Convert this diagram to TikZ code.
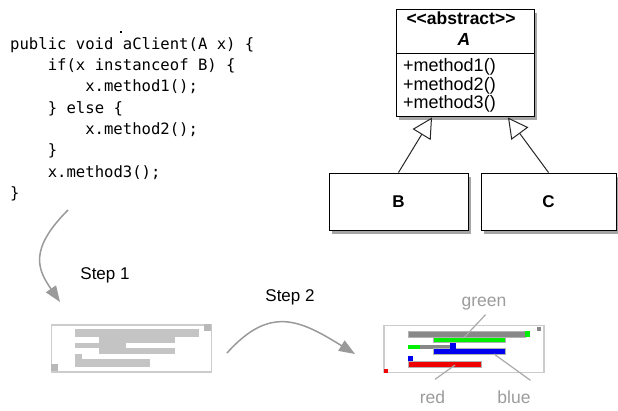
\documentclass[tikz,border=0pt]{standalone}
\usepackage{fontspec}
\setmainfont{Liberation Sans}
\newfontfamily\codefont{DejaVu Sans Mono}
\usetikzlibrary{arrows.meta,shadows}
\definecolor{arrgray}{HTML}{9A9A9A}
\definecolor{lblgray}{HTML}{9C9C9C}
\definecolor{pointgray}{HTML}{AAAAAA}
\definecolor{framegray}{HTML}{CCCCCC}
\definecolor{bargray}{HTML}{C4C4C4}
\definecolor{cornergray}{HTML}{B8B8B8}
\definecolor{darkbar}{HTML}{888888}
\definecolor{gbar}{HTML}{00F000}
\definecolor{bbar}{HTML}{0000F0}
\definecolor{rbar}{HTML}{F00000}
\begin{document}
\begin{tikzpicture}[x=1pt,y=-1pt,
  code/.style={anchor=base west, inner sep=0pt, font=\codefont\fontsize{15.6}{18}\selectfont},
  umlbox/.style={draw=black, line width=1pt, fill=white,
    drop shadow={shadow xshift=2.5pt, shadow yshift=-3.5pt, fill=black!50, opacity=0.7}},
  umltext/.style={anchor=base west, inner sep=0pt, font=\fontsize{18}{20}\selectfont},
  umlhead/.style={anchor=base, inner sep=0pt, font=\bfseries\fontsize{17.5}{20}\selectfont},
  inh/.style={draw=black!85, line width=1pt, -{Triangle[open, length=20pt, width=21pt, line width=1pt]}},
  steparrow/.style={draw=arrgray, line width=1.5pt, -{Triangle[length=16pt, width=12pt]}},
  steptext/.style={inner sep=0pt, font=\fontsize{17}{20}\selectfont},
  smallframe/.style={draw=framegray, line width=1.5pt, minimum width=160pt, minimum height=47pt, inner sep=0pt},
  lbl/.style={inner sep=0pt, text=lblgray, font=\fontsize{17.5}{20}\selectfont},
  pointer/.style={draw=pointgray, line width=1.2pt},
  outl/.style={draw=black!30, line width=0.4pt}
]
\useasboundingbox (0,0) rectangle (618,410);
\fill[white] (0,0) rectangle (618,410);

% ---------------- code ----------------
\fill (120,31) rectangle (122,33);
\node[code] (c1) at (10,49.3)   {public void aClient(A x) \{};
\node[code] (c2) at (47.6,70.6) {if(x instanceof B) \{};
\node[code] (c3) at (85.1,91.9) {x.method1();};
\node[code] (c4) at (47.6,113.2) {\} else \{};
\node[code] (c5) at (85.1,134.5) {x.method2();};
\node[code] (c6) at (47.6,155.8) {\}};
\node[code] (c7) at (47.6,177.1) {x.method3();};
\node[code] (c8) at (10,198.4)  {\}};

% ---------------- UML ----------------
\node[umlbox, minimum width=138pt, minimum height=107pt, inner sep=0pt] (A) at (465,62.5) {};
\draw[line width=1pt] (A.west |- 0,53) -- (A.east |- 0,53);
\node[umlhead] (stereo) at (461,24.7) {<\kern0pt<abstract>\kern0pt>};
\node[umlhead, font=\bfseries\itshape\fontsize{17.5}{20}\selectfont] (aname) at (464,45) {A};
\node[umltext] (m1) at (403,71.5) {+method1()};
\node[umltext] (m2) at (403,90) {+method2()};
\node[umltext] (m3) at (403,108.5) {+method3()};

\node[umlbox, minimum width=139pt, minimum height=57pt, inner sep=0pt,
      font=\bfseries\fontsize{17}{20}\selectfont] (B) at (398.5,201.5) {B};
\node[umlbox, minimum width=135pt, minimum height=57pt, inner sep=0pt,
      font=\bfseries\fontsize{17}{20}\selectfont] (C) at (548.5,201.5) {C};

\coordinate (tb) at (432,117.5);
\coordinate (tc) at (508,117.5);
\draw[inh] (B.north) -- (tb);
\draw[inh] (C.north) -- (tc);

% ---------------- steps ----------------
\coordinate (s1a) at (68,210);
\coordinate (s1b) at (60,302);
\draw[steparrow] (s1a) .. controls (28,250) and (38,270) .. (s1b);
\node[steptext] (step1) at (105,275) {Step 1};

\coordinate (s2a) at (227,353);
\coordinate (s2b) at (355,354);
\draw[steparrow] (s2a) .. controls (270,305) and (300,320) .. (s2b);
\node[steptext] (step2) at (290,297) {Step 2};

% ---------------- left small box ----------------
\node[smallframe] (src) at (131.5,348.5) {};
\begin{scope}[shift={(src.north west)}]
  \fill[bargray] (24,5) rectangle (148,12.7);
  \fill[bargray] (48.3,12.7) rectangle (124,18.3);
  \fill[bargray] (24,18.3) rectangle (75,23.3);
  \fill[bargray] (48.3,23.3) rectangle (124,30);
  \fill[bargray] (24,30) rectangle (31.7,35);
  \fill[bargray] (24,35) rectangle (99,42.3);
  \fill[cornergray] (153,0) rectangle (160,7);
  \fill[cornergray] (0,40) rectangle (7,47);
\end{scope}

% ---------------- right small box ----------------
\node[smallframe] (dst) at (463.75,348.75) {};
\begin{scope}[shift={(dst.north west)}]
  \fill[darkbar, outl] (25,6.7) rectangle (141.7,12.4);
  \fill[gbar] (141.7,6.7) rectangle (146.7,12.4);
  \fill[gbar, outl] (50,12.4) rectangle (121.7,18);
  \fill[gbar] (25,20) rectangle (36.7,24);
  \fill[darkbar] (36.7,20) rectangle (66.7,24);
  \fill[bbar, outl] (50,24) rectangle (121.7,30);
  \fill[bbar] (66.7,18) rectangle (73.3,25.7);
  \fill[bbar] (25,31.4) rectangle (30,36.4);
  \fill[rbar, outl] (25,36.4) rectangle (97.7,43);
  \fill[rbar] (1,44) rectangle (5,48.5);
  \fill[darkbar] (154,2) rectangle (158,6);
\end{scope}

% ---------------- labels ----------------
\node[lbl] (lgreen) at (484,304) {green};
\node[lbl] (lred) at (432.5,397) {red};
\node[lbl] (lblue) at (514,397) {blue};
\coordinate (pg) at (463.3,338.3);
\coordinate (pr) at (455,365);
\coordinate (pb) at (494,354);
\draw[pointer] (lgreen.south) ++(1.5,4) -- (pg);
\draw[pointer] (lred.north) ++(2.5,-11) -- (pr);
\draw[pointer] (lblue.north) ++(16.5,-10) -- (pb);
\end{tikzpicture}
\end{document}
